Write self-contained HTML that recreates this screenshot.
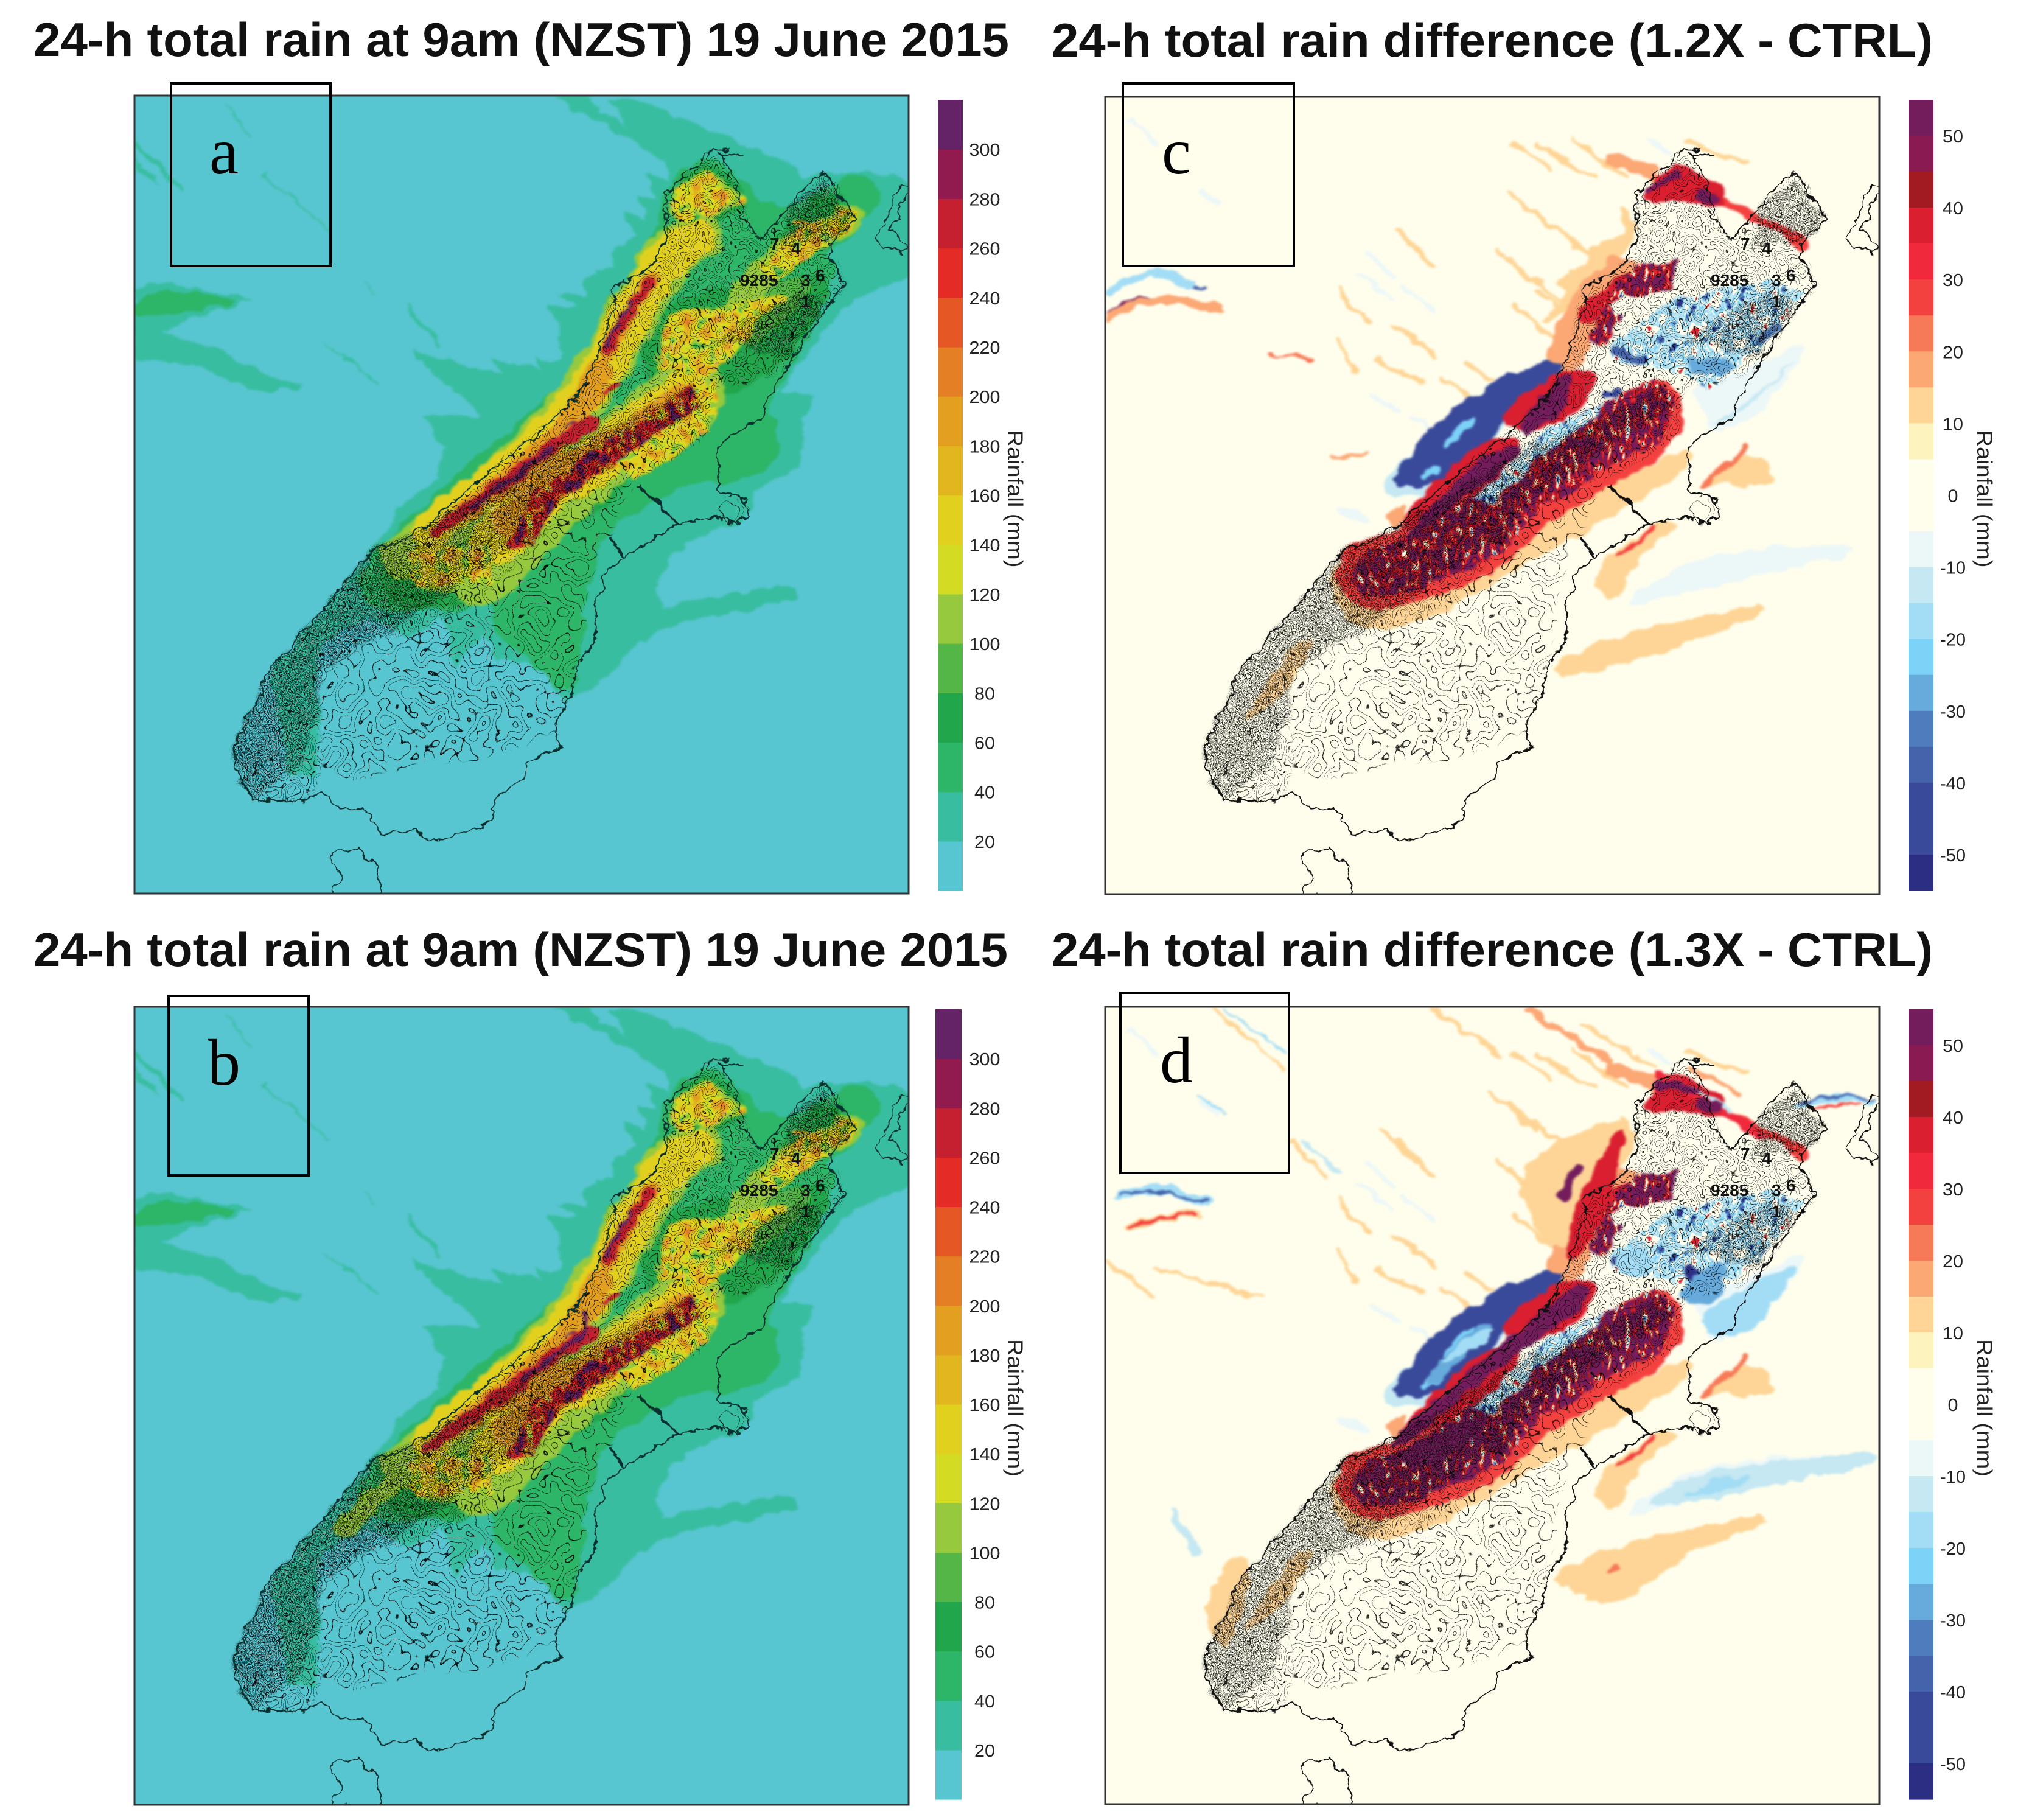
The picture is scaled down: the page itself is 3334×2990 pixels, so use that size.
<!DOCTYPE html>
<html lang="en"><head><meta charset="utf-8"><title>24-h total rain, South Island, 19 June 2015</title>
<style>
html,body{margin:0;padding:0;background:#fff}
svg{display:block}
text{font-family:"Liberation Sans",sans-serif}
</style></head>
<body>
<svg id="fig" xmlns="http://www.w3.org/2000/svg" width="3334" height="2990" viewBox="0 0 3334 2990">
<defs>
<filter id="soft" filterUnits="userSpaceOnUse" x="-900" y="-500" width="3000" height="3200" color-interpolation-filters="sRGB">
<feTurbulence type="fractalNoise" baseFrequency="0.018" numOctaves="3" seed="5" result="n"/>
<feDisplacementMap in="SourceGraphic" in2="n" scale="40" xChannelSelector="R" yChannelSelector="G"/>
<feGaussianBlur stdDeviation="3.5"/>
</filter>
<filter id="wobble" filterUnits="userSpaceOnUse" x="-900" y="-500" width="3000" height="3200" color-interpolation-filters="sRGB">
<feTurbulence type="fractalNoise" baseFrequency="0.03" numOctaves="3" seed="5" result="n"/>
<feDisplacementMap in="SourceGraphic" in2="n" scale="34" xChannelSelector="R" yChannelSelector="G"/>
</filter>
<filter id="contourDense" filterUnits="userSpaceOnUse" x="-900" y="-500" width="3000" height="3200" color-interpolation-filters="sRGB">
<feTurbulence type="fractalNoise" baseFrequency="0.02 0.016" numOctaves="2" seed="7"/>
<feColorMatrix type="matrix" values="0 0 0 0 0 0 0 0 0 0 0 0 0 0 0 1 0 0 0 0"/>
<feComponentTransfer><feFuncA id="denseTable" type="discrete" tableValues="0 1"/></feComponentTransfer>
<feGaussianBlur stdDeviation="0.4"/>
</filter>
<filter id="contourHatch" filterUnits="userSpaceOnUse" x="-900" y="-500" width="3000" height="3200" color-interpolation-filters="sRGB">
<feTurbulence type="fractalNoise" baseFrequency="0.055 0.035" numOctaves="2" seed="13"/>
<feColorMatrix type="matrix" values="0 0 0 0 0 0 0 0 0 0 0 0 0 0 0 1 0 0 0 0"/>
<feComponentTransfer><feFuncA id="hatchTable" type="discrete" tableValues="0 1"/></feComponentTransfer>
<feGaussianBlur stdDeviation="0.4"/>
</filter>
<filter id="contourSparse" filterUnits="userSpaceOnUse" x="-900" y="-500" width="3000" height="3200" color-interpolation-filters="sRGB">
<feTurbulence type="fractalNoise" baseFrequency="0.014 0.012" numOctaves="2" seed="11"/>
<feColorMatrix type="matrix" values="0 0 0 0 0 0 0 0 0 0 0 0 0 0 0 1 0 0 0 0"/>
<feComponentTransfer><feFuncA id="sparseTable" type="discrete" tableValues="0 1"/></feComponentTransfer>
<feGaussianBlur stdDeviation="0.4"/>
</filter>
<filter id="mottleRed" filterUnits="userSpaceOnUse" x="-900" y="-500" width="3000" height="3200" color-interpolation-filters="sRGB">
<feTurbulence type="fractalNoise" baseFrequency="0.06 0.025" numOctaves="3" seed="4"/>
<feColorMatrix type="matrix" values="1 0 0 0 0 1 0 0 0 0 1 0 0 0 0 0 0 0 0 1"/>
<feComponentTransfer id="redTable"><feFuncR type="discrete"/><feFuncG type="discrete"/><feFuncB type="discrete"/></feComponentTransfer>
<feGaussianBlur stdDeviation="1.2"/>
</filter>
<filter id="mottleRedD" filterUnits="userSpaceOnUse" x="-900" y="-500" width="3000" height="3200" color-interpolation-filters="sRGB">
<feTurbulence type="fractalNoise" baseFrequency="0.06 0.025" numOctaves="3" seed="4"/>
<feColorMatrix type="matrix" values="1 0 0 0 0 1 0 0 0 0 1 0 0 0 0 0 0 0 0 1"/>
<feComponentTransfer id="redTableD"><feFuncR type="discrete"/><feFuncG type="discrete"/><feFuncB type="discrete"/></feComponentTransfer>
<feGaussianBlur stdDeviation="1.2"/>
</filter>
<filter id="mottleBlue" filterUnits="userSpaceOnUse" x="-900" y="-500" width="3000" height="3200" color-interpolation-filters="sRGB">
<feTurbulence type="fractalNoise" baseFrequency="0.03 0.022" numOctaves="3" seed="9"/>
<feColorMatrix type="matrix" values="1 0 0 0 0 1 0 0 0 0 1 0 0 0 0 0 0 0 0 1"/>
<feComponentTransfer id="blueTable"><feFuncR type="discrete"/><feFuncG type="discrete"/><feFuncB type="discrete"/></feComponentTransfer>
<feGaussianBlur stdDeviation="1.2"/>
</filter>
<filter id="mottleRain" filterUnits="userSpaceOnUse" x="-900" y="-500" width="3000" height="3200" color-interpolation-filters="sRGB">
<feTurbulence type="fractalNoise" baseFrequency="0.035 0.022" numOctaves="3" seed="3"/>
<feColorMatrix type="matrix" values="1 0 0 0 0 1 0 0 0 0 1 0 0 0 0 0 0 0 0 1"/>
<feComponentTransfer id="rainTable"><feFuncR type="discrete"/><feFuncG type="discrete"/><feFuncB type="discrete"/></feComponentTransfer>
<feGaussianBlur stdDeviation="1.2"/>
</filter>
<filter id="mottleWarm" filterUnits="userSpaceOnUse" x="-900" y="-500" width="3000" height="3200" color-interpolation-filters="sRGB">
<feTurbulence type="fractalNoise" baseFrequency="0.03 0.025" numOctaves="3" seed="8"/>
<feColorMatrix type="matrix" values="1 0 0 0 0 1 0 0 0 0 1 0 0 0 0 0 0 0 0 1"/>
<feComponentTransfer id="warmTable"><feFuncR type="discrete"/><feFuncG type="discrete"/><feFuncB type="discrete"/></feComponentTransfer>
<feGaussianBlur stdDeviation="1.2"/>
</filter>
</defs>
<rect width="3334" height="2990" fill="#fff"/>

<g id="panels"></g>
<g id="bars"></g>

<g font-weight="700" font-size="78" fill="#111">
<text x="55" y="92" textLength="1603" lengthAdjust="spacingAndGlyphs">24-h total rain at 9am (NZST) 19 June 2015</text>
<text x="1728" y="93" textLength="1448" lengthAdjust="spacingAndGlyphs">24-h total rain difference (1.2X - CTRL)</text>
<text x="55" y="1587" textLength="1601" lengthAdjust="spacingAndGlyphs">24-h total rain at 9am (NZST) 19 June 2015</text>
<text x="1728" y="1587" textLength="1448" lengthAdjust="spacingAndGlyphs">24-h total rain difference (1.3X - CTRL)</text>
</g>

<g fill="none" stroke="#000" stroke-width="4">
<rect x="281" y="137" width="262" height="300"/>
<rect x="277" y="1636" width="230" height="295"/>
<rect x="1845" y="137" width="281" height="300"/>
<rect x="1841" y="1631" width="277" height="296"/>
</g>
<g font-size="108" fill="#000" text-anchor="middle">
<text x="368" y="285" style="font-family:'Liberation Serif',serif">a</text>
<text x="368" y="1782" style="font-family:'Liberation Serif',serif">b</text>
<text x="1933" y="285" style="font-family:'Liberation Serif',serif">c</text>
<text x="1933" y="1778" style="font-family:'Liberation Serif',serif">d</text>
</g>
</svg>

<script>
// ---- colour-bar data ----
const rainLevels = [0,20,40,60,80,100,120,140,160,180,200,220,240,260,280,300,320];
const rainColors = ["#58c6d0","#38bda0","#2db568","#22a64c","#55b648","#96c93d","#d3dc23","#e2d01f","#e2b61f","#e3a020","#e47f25","#e55825","#e52b26","#c4202f","#911b4e","#642367"];
const rainTicks = [20,40,60,80,100,120,140,160,180,200,220,240,260,280,300];
const diffLevels = [55,50,45,40,35,30,25,20,15,10,5,-5,-10,-15,-20,-25,-30,-35,-40,-50,-55];
const diffColors = ["#741d5c","#8a1a52","#a31b22","#da1f30","#f02a3c","#f3413f","#f67a58","#fba875","#fed596","#fdf3bf","#fffeec","#ecf7f8","#c5e8f2","#a3ddf5","#7cd2f7","#67abdc","#4e7cbd","#4463ab","#3a4a9b","#2b2e82"];
const diffTicks = [50,40,30,20,10,0,-10,-20,-30,-40,-50];

// ---- map geometry (traced outlines, each entry: value, stroke width or 0, outline) ----
const coastLine = "1040,32 990,30 860,170 860,320 820,410 712,475 710,530 660,700 600,830 490,950 400,1020 180,1240 90,1300 21,1313 -58,1430 -191,1606 -271,1701 -306,1796 -377,1957 -359,2060 -315,2126 -173,2129 -120,2096 -76,2155 -5,2147 48,2235 146,2224 190,2257 323,2213 367,2177 371,2125 456,2052 456,2008 562,1957 535,1906 589,1781 606,1694 659,1606 659,1489 686,1386 739,1342 890,1240 1000,1215 1060,1240 1100,1190 1070,1150 1010,1130 1005,1010 1030,965 1130,900 1190,750 1320,540 1370,470 1320,350 1400,250 1310,100 1260,150 1130,320 1080,250 1060,130 1010,40 1080,50";
const stewartLine = "-76,2279 -103,2308 -67,2367 -103,2440 39,2433 39,2338 -23,2287 -76,2279";
const northIslandLine = "1460,310 1530,150 1550,160 1500,290 1555,350 1530,365 1470,340 1460,310";
const faultLines = ["770,1110 830,1160 890,1240","700,1280 735,1340"];
const denseZone = "860,170 860,320 820,410 712,475 660,700 600,830 400,1020 180,1240 90,1300 21,1313 -58,1430 -191,1606 -271,1701 -306,1796 -377,1957 -359,2060 -315,2126 -173,2129 -120,2000 -147,1752 0,1620 200,1560 350,1460 500,1280 640,1120 770,1090 960,980 1000,800 1190,750 1320,540 1370,470 1320,350 1400,250 1310,100 1130,320 1080,250 1060,130 990,30";
const sparseZone = "-147,1752 0,1620 200,1560 350,1460 500,1280 640,1120 770,1110 650,1350 606,1694 535,1906 456,1950 330,2000 150,2000 50,2040 -60,2060 -120,2000";
const banksZone = "1000,1180 1040,1140 1095,1190 1060,1240 1010,1225";
const hatchZones = ["-377,1957 -271,1701 -58,1430 21,1313 120,1270 360,1120 520,1000 640,1010 420,1300 250,1450 100,1560 -120,1700 -170,2000 -315,2126 -359,2060","1200,220 1310,130 1400,250 1330,330 1200,340","1000,640 1250,480 1320,530 1190,700","520,1000 780,880 930,790 960,850 800,970 680,1070 560,1150 470,1310 380,1250"];

const rainFieldA = [
 [30,0,"768,-138 960,-45 1148,45 1220,80 1250,120 1400,100 1500,110 1560,150 1560,430 1500,470 1400,510 1340,570 1290,640 1215,760 1200,810 1280,825 1250,900 1260,920 1240,1050 1200,1080 1110,1120 1100,1200 1060,1240 960,1275 880,1330 830,1440 850,1505 1000,1475 1140,1440 1230,1440 1230,1480 1100,1510 950,1540 800,1600 746,1664 677,1745 597,1789 562,1811 509,1679 376,1672 340,1591 252,1694 225,1533 128,1606 13,1533 -111,1606 -147,1752 -129,1899 -147,2045 -218,2045 -271,1708 -200,1620 -58,1430 21,1313 85,1230 100,1180 210,1100 220,1000 235,990 160,890 330,885 320,860 240,800 130,680 260,720 385,750 355,705 500,740 480,700 550,710 560,620 520,530 600,530 550,500 630,500 630,440 700,420 700,370 770,300 740,235 800,250 780,180 830,200 800,110 860,130 850,70 760,0 660,-70 544,-137 620,-137 740,-50 700,-137"],
 [30,0,"-658,474 -562,457 -322,516 -488,570 -580,624 -414,674 -266,766 -174,787 -185,807 -340,799 -488,728 -658,703"],
 [50,0,"-658,516 -562,474 -340,516 -488,549 -617,570 -658,570"],
 [30,14,"-654,7 -532,166"],[30,5,"-285,112 -100,299"],[30,5,"-119,653 29,778"],[30,10,"120,535 210,660"],[30,4,"0,460 25,490"],[30,4,"-400,-120 -330,-10"],
 [30,0,"-700,-30 -640,100 -580,150 -650,60"],
 [50,0,"960,60 1010,60 1090,150 1130,195 1230,220 1330,140 1400,100 1490,170 1400,300 1320,350 1340,400 1330,500 1210,740 1190,800 1140,850 1185,940 1180,1040 1060,1115 950,1090 850,1150 710,1230 660,1310 624,1533 606,1767 562,1781 482,1679 376,1606 358,1459 243,1533 199,1503 21,1533 -23,1423 12,1328 70,1290 100,1230 170,1180 280,1050 400,950 470,880 560,790 640,690 680,580 700,500 790,400 810,340 850,230 860,130"],
 [70,0,"20,1330 120,1270 360,1120 500,1000 700,1000 780,1100 560,1280 420,1420 360,1460 220,1520 60,1500"],
 [70,0,"870,130 990,70 1070,150 1100,200 1010,270 900,290"],
 [70,0,"1130,360 1260,200 1360,160 1400,220 1330,330 1200,440 1140,420"],
 [70,0,"800,720 780,560 1000,480 1320,420 1330,500 1190,740 1000,830 980,920 800,1000"],
 [90,0,"1030,520 1200,430 1300,470 1180,600 1060,700"],
 [110,150,"120,1340 300,1180 500,990 620,830 700,700 780,520 860,380 950,310"],
 [110,200,"330,1400 480,1230 600,1090 780,930 930,810"],
 [110,0,"110,1310 350,1320 360,1430 250,1460 140,1450"],
 [110,90,"1000,640 1130,420 1230,340 1380,250"],
 [110,0,"870,150 990,90 1040,160 1085,170 1090,200 1050,210 990,260 890,270 870,230"],
 [110,0,"810,730 850,560 990,540 1030,720 940,800"],
 [70,0,"810,690 830,610 950,560 930,640 880,690"],
 [150,0,"160,1290 340,1330 350,1400 210,1390 120,1360"],
 [150,120,"190,1250 330,1130 500,990 610,840 690,720 770,530 850,390 940,320"],
 [150,150,"380,1290 500,1130 620,1060 780,930 920,820"],
 [150,50,"1160,410 1240,330 1380,250"],
 [150,30,"960,690 1030,610 1100,580 1190,510"],
 [190,78,"290,1190 450,1070 560,950 640,820 665,745"],
 [190,50,"690,690 760,540 820,455"],
 [190,90,"410,1230 520,1090 650,1020 800,920 910,830"],
 [190,14,"1230,262 1290,270"],[190,16,"890,160 950,145"],[190,14,"880,210 920,215"],
 [270,36,"200,1260 330,1160 530,990 650,905"],
 [270,30,"690,680 760,540 820,460"],
 [270,14,"690,810 730,790"],
 [310,12,"300,1185 380,1120 540,985"],
 [310,11,"690,670 715,600 760,525"],
 [310,8,"570,920 600,915"]
];
const rainExtraB = [
 [310,12,"620,850 660,900 520,1000"],
 [270,34,"180,1280 300,1190 440,1075"],
 [110,60,"-60,1540 40,1420 140,1350"]
];
const rainHotZones = ["400,1300 500,1120 640,1010 780,900 930,790 950,850 800,970 680,1070 560,1150 470,1310"];
const rainWarmZones = ["880,160 985,100 1030,170 1085,175 1080,200 1040,200 985,250 900,260 880,225","1130,400 1240,280 1390,220 1400,270 1280,370 1170,450","850,620 870,560 1060,520 1180,500 1050,700 960,760 840,740","120,1330 350,1310 360,1430 140,1440","660,1000 1000,770 1010,880 920,1000 770,1090"];

const streaksWarm = ["500,10 610,95","570,20 730,120","670,0 820,120","480,170 740,390","170,290 270,415","450,350 640,530","570,490 660,570","500,530 620,650","0,480 80,580","160,600 280,700","110,710 230,775","360,720 440,765","0,640 50,750","300,770 380,840","990,0 1160,75"];
const streaksCool = ["60,430 150,510","80,365 155,435","190,480 270,550","100,830 180,875","210,900 270,945","890,0 950,35","-395,160 -350,205","-600,-60 -520,10"];
const diffFieldC = [
 [12,0,"560,600 650,560 700,470 840,350 850,240 780,200 840,300 720,330 700,420 620,440 650,500"],
 [12,0,"1030,1130 1150,985 1270,1090 1200,1120 1100,1100"],
 [12,0,"700,1400 880,1240 1000,1220 850,1340 780,1500"],
 [12,0,"600,1740 650,1640 1000,1540 1220,1490 1220,1530 1000,1610 800,1700"],
 [12,0,"-140,1650 -60,1560 -150,1800 -300,1900"],
 [12,0,"-20,1340 160,1270 400,1300 640,1180 800,1100 1000,980 1020,1040 800,1200 560,1350 340,1500 100,1600 -20,1500"],
 [-7,0,"820,1480 1040,1330 1470,1290 1470,1340 1200,1400 830,1510"],
 [-7,0,"1000,800 1180,730 1330,640 1330,700 1200,880 1080,960 1040,870"],
 [-12,0,"1050,930 1200,820 1320,680 1240,790 1120,900"],
 [-7,0,"0,1160 100,1210 90,1240 0,1220"],
 [17,40,"780,60 900,110"],
 [27,30,"1090,190 1200,250 1330,340"],
 [22,18,"1040,1120 1160,990"],[27,14,"800,1330 900,1250"],
 [37,76,"660,690 700,570 790,460"],
 [17,110,"650,690 700,540 800,430"],
 [37,60,"720,560 770,490 860,450"],
 [37,0,"850,190 950,70 1040,110 1110,170 1090,225 1000,190 900,200"],
 [-12,0,"110,1150 150,1060 270,940 440,810 500,750 660,700 570,840 470,930 340,1070 240,1150"],
 [-45,0,"130,1120 250,940 310,870 410,810 480,745 670,700 570,820 490,890 450,950 340,1060 250,1120"],
 [-22,0,"290,990 350,900 400,890 350,960"],[-22,0,"220,1090 260,1050 300,1050 250,1090"],
 [-7,0,"770,680 890,640 860,720 790,720"],
 [37,0,"470,880 530,820 640,730 770,760 650,910 560,940 480,920"],
 [37,0,"420,960 500,950 530,1000 350,1180 190,1300 160,1240 270,1100"],
 [17,0,"120,1220 180,1160 200,1230 150,1260"],
 [27,0,"0,1310 160,1260 360,1180 520,1060 700,900 900,750 1000,830 950,1010 780,1110 600,1230 480,1370 370,1430 230,1490 70,1520 -10,1430"]
];
const diffTopC = [
 [52,0,"520,890 590,820 650,745 670,760 640,900 560,920 530,965 520,930"],
 [52,0,"180,1280 240,1210 300,1130 420,1010 510,985 530,1000 380,1130 250,1250 200,1285"],
 [52,22,"880,160 960,115"],[52,30,"1040,180 1070,185"],
 [-45,16,"760,825 800,815"],[-37,26,"790,680 850,710"],[-27,50,"1020,730 1100,730"],
 [-32,30,"1200,640 1250,610"]
];
const arcsC = [[52,8,"-657,560 -590,505 -500,510 -332,540"],[-37,8,"-657,480 -590,425 -480,430 -380,487"],[-17,26,"-657,490 -560,410 -420,465"],[17,26,"-657,575 -560,495 -340,545"],[17,12,"-20,1020 80,1010"],[22,8,"-190,690 -80,705"]];
const diffExtraD = [
 [12,0,"495,363 801,207 835,276 716,485 665,659 560,600"],
 [17,0,"-389,1754 -287,1667 -338,1927"],
 [12,0,"-389,1754 -287,1600 -240,1700 -338,1990"],
 [-12,0,"852,1476 1022,1354 1532,1285 1532,1337 1226,1406 937,1476"],
 [-17,0,"960,1440 1060,1380 1200,1370 1100,1420"],
 [12,0,"614,1719 801,1580 1226,1510 1226,1528 1005,1597 937,1684 767,1806"],
 [22,0,"760,1700 790,1640 810,1680"],
 [-17,0,"1000,860 1180,760 1330,660 1260,800 1120,960"],
 [37,0,"682,485 801,224 835,276 716,659 631,694"],
 [32,30,"910,85 1073,172 1209,276"],
 [17,22,"546,-132 767,33"],[12,16,"274,-123 461,16"],[12,16,"427,137 563,259"],[12,14,"121,259 223,363"],[12,14,"-134,294 -32,415"],[12,10,"-355,-132 -151,68"],
 [12,14,"-661,676 -525,798"],[12,12,"-525,702 -219,798"],[12,12,"700,-80 900,50"],[17,16,"1000,60 1140,140"],
 [-17,8,"-330,-132 -151,7"],[-17,7,"-406,137 -330,207"],[-12,10,"-100,300 0,390"],[-12,10,"1000,120 1120,190"],
 [-17,26,"-627,468 -525,431 -372,494"],[-37,7,"-627,468 -525,441 -372,494"],
 [12,22,"-593,572 -508,537 -406,528"],[27,9,"-593,572 -508,537 -406,528"],
 [-17,20,"1311,182 1430,146 1532,173"],[-37,7,"1311,172 1430,146 1532,163"],[27,5,"1360,190 1430,165 1490,180"],
 [-12,20,"-480,1480 -400,1620"]
];
const diffTopD = [
 [52,0,"690,730 478,937 140,1250 160,1300 461,1016 730,810"],
 [52,0,"160,1300 360,1200 440,1180 330,1310 200,1350"],
 [-52,40,"1000,720 1060,730"],[-45,26,"790,680 830,700"],[-17,0,"810,640 900,640 880,740 790,720"],
 [-27,0,"960,760 1120,660 1090,800 1000,830"],
 [52,22,"640,470 680,380"],[52,26,"920,110 1010,130"],[52,30,"1040,175 1080,180"],
 [-27,0,"230,1090 300,980 400,880 450,880 380,960 300,1060"],
 [-17,0,"290,1010 350,930 450,890 420,940 340,990"]
];
const mottleRedZones = ["540,1000 700,880 900,770 960,830 920,980 840,1010 700,1100 560,1200 460,1330 370,1380 230,1450 80,1480 20,1400 80,1320 160,1300 340,1180","850,400 980,390 940,480 860,500 760,520 820,440","720,640 760,520 810,570 750,660"];
const mottleBlueZones = ["770,660 960,510 1220,450 1330,480 1230,640 1050,800 960,740 800,720","530,1000 620,920 780,830 720,900 560,1030 440,1180 380,1150"];
const redBinsC = ["#741d5c","#741d5c","#741d5c","#741d5c","#741d5c","#741d5c","#741d5c","#741d5c","#741d5c","#8a1a52","#a31b22","#da1f30","#f02a3c","#fba875","#fffeec","#a3ddf5","#4e7cbd","#2b2e82","#2b2e82","#2b2e82"];
const redBinsD = ["#741d5c","#741d5c","#741d5c","#741d5c","#741d5c","#741d5c","#741d5c","#741d5c","#741d5c","#741d5c","#8a1a52","#a31b22","#da1f30","#fba875","#fffeec","#a3ddf5","#4e7cbd","#2b2e82","#2b2e82","#2b2e82"];
const blueBins = ["#da1f30","#da1f30","#da1f30","#da1f30","#da1f30","#fffeec","#fffeec","#fffeec","#a3ddf5","#c5e8f2","#7cd2f7","#fffeec","#a3ddf5","#67abdc","#4463ab","#2b2e82","#2b2e82","#2b2e82","#2b2e82","#2b2e82"];
const hotBins = ["#642367","#642367","#642367","#642367","#642367","#642367","#642367","#911b4e","#c4202f","#c4202f","#e52b26","#e55825","#e47f25","#e3a020","#e2d01f","#d3dc23","#96c93d","#96c93d","#96c93d","#96c93d"];
const warmBins = ["#e47f25","#e47f25","#e47f25","#e47f25","#e3a020","#e3a020","#e3a020","#e2b61f","#e2b61f","#e2d01f","#e2d01f","#d3dc23","#d3dc23","#96c93d","#96c93d","#55b648","#55b648","#22a64c","#22a64c","#22a64c"];
const mapLabels = [["9285",1216,470],["3",1316,470],["6",1340,462],["1",1316,505],["7",1265,410],["4",1300,418]];

// ---- helpers ----
const NS = "http://www.w3.org/2000/svg";
function mk(tag, parent, attrs){
  const n = document.createElementNS(NS, tag);
  for (const k in attrs) n.setAttribute(k, attrs[k]);
  parent.appendChild(n);
  return n;
}
function rainColor(v){
  for (let i = 0; i < rainColors.length; i++) if (v < rainLevels[i+1]) return rainColors[i];
  return rainColors[rainColors.length-1];
}
function diffColor(v){
  for (let i = 0; i < diffColors.length; i++) if (v > diffLevels[i+1]) return diffColors[i];
  return diffColors[diffColors.length-1];
}
function hexRGB(h){ return [1,3,5].map(i => (parseInt(h.substr(i,2),16)/255).toFixed(3)); }
function setBins(id, bins){
  const fns = document.getElementById(id).children;
  for (let c = 0; c < 3; c++) fns[c].setAttribute("tableValues", bins.map(b => hexRGB(b)[c]).join(" "));
}
setBins("redTable", redBinsC);
setBins("redTableD", redBinsD);
setBins("blueTable", blueBins);
setBins("rainTable", hotBins);
setBins("warmTable", warmBins);
function isoTable(n, every){
  const t = [];
  for (let i = 0; i < n; i++) t.push(i % every === 0 ? 1 : 0);
  return t.join(" ");
}
document.getElementById("denseTable").setAttribute("tableValues", isoTable(90, 8));
document.getElementById("hatchTable").setAttribute("tableValues", isoTable(60, 4));
document.getElementById("sparseTable").setAttribute("tableValues", isoTable(90, 12));

function parsePts(s){ return s.trim().split(/\s+/).map(p => p.split(",").map(Number)); }
function smoothPath(s, closed){
  const p = parsePts(s);
  const mid = (a,b) => [(a[0]+b[0])/2,(a[1]+b[1])/2];
  if (p.length < 3) return "M" + p.map(a => a.join(",")).join(" L");
  let d;
  if (closed){
    const m0 = mid(p[p.length-1], p[0]);
    d = "M" + m0.join(",");
    p.forEach(function(a,i){ const m = mid(a, p[(i+1)%p.length]); d += " Q" + a.join(",") + " " + m.join(","); });
    return d + " Z";
  }
  d = "M" + p[0].join(",");
  for (let i = 1; i < p.length-1; i++){ const m = mid(p[i], p[i+1]); d += " Q" + p[i].join(",") + " " + m.join(","); }
  return d + " L" + p[p.length-1].join(",");
}

// ---- fields ----
function drawField(parent, list, colorOf, name, sharpValue){
  list.forEach(function(f){
    const col = colorOf(f[0]);
    let el;
    if (f[1] > 0) el = mk("path", parent, {d:smoothPath(f[2], false), fill:"none", stroke:col, "stroke-width":f[1], "stroke-linecap":"round", "stroke-linejoin":"round"});
    else if (f[0] === sharpValue) el = mk("polygon", parent, {points:f[2], fill:col});
    else el = mk("path", parent, {d:smoothPath(f[2], true), fill:col});
    
    
  });
}
function drawStreaks(parent, list, v, w){
  list.forEach(function(p){
    const el = mk("polyline", parent, {points:p, fill:"none", stroke:diffColor(v), "stroke-width":w, "stroke-linecap":"round"});
    
    
  });
}
let uid = 0;
function zoneMask(points){
  const id = "zone" + (uid++);
  const m = mk("mask", document.querySelector("defs"), {id:id, maskUnits:"userSpaceOnUse", x:-900, y:-500, width:3000, height:3200});
  const g = mk("g", m, {filter:"url(#soft)"});
  points.forEach(function(p){ mk("polygon", g, {points:p, fill:"#fff"}); });
  return id;
}
const maskDense = zoneMask([denseZone]);
const maskSparse = zoneMask([sparseZone, banksZone]);
const maskHatch = zoneMask(hatchZones);
const maskHot = zoneMask(rainHotZones);
const maskWarm = zoneMask(rainWarmZones);
const maskRed = zoneMask(mottleRedZones);
const maskBlue = zoneMask(mottleBlueZones);
function mottle(parent, maskId, filterId){
  const z = mk("g", parent, {mask:"url(#"+maskId+")"});
  mk("rect", z, {x:-900,y:-500,width:3000,height:3200,filter:"url(#"+filterId+")"});
}
const TF = "scale(0.5757,0.5102)";
function drawTerrain(parent, stroke, ox, oy, alpha){
  const g = mk("g", parent, {transform:"translate("+ox+","+oy+") "+TF});
  
  
  const z1 = mk("g", g, {mask:"url(#"+maskDense+")", opacity:alpha});
  mk("rect", z1, {x:-900,y:-500,width:3000,height:3200,filter:"url(#contourDense)"});
  const z2 = mk("g", g, {mask:"url(#"+maskSparse+")", opacity:alpha});
  mk("rect", z2, {x:-900,y:-500,width:3000,height:3200,filter:"url(#contourSparse)"});
  const z3 = mk("g", g, {mask:"url(#"+maskHatch+")", opacity:alpha});
  mk("rect", z3, {x:-900,y:-500,width:3000,height:3200,filter:"url(#contourHatch)"});
  const lines = mk("g", g, {filter:"url(#wobble)"});
  [[coastLine,2.4],[stewartLine,2],[northIslandLine,2]].forEach(function(c){
    const el = mk("polyline", lines, {points:c[0], fill:"none", stroke:stroke, "stroke-width":c[1], "vector-effect":"non-scaling-stroke", "stroke-linejoin":"round"});
    
    
  });
  faultLines.forEach(function(f){
    const el = mk("polyline", lines, {points:f, fill:"none", stroke:stroke, "stroke-width":4, "vector-effect":"non-scaling-stroke"});
    
    
  });
}
function drawMapLabels(parent, dx, dy){
  mapLabels.forEach(function(m){
    const t = mk("text", parent, {x:m[1]+dx, y:m[2]+dy, "font-size":28, "font-weight":700, fill:"#111"});
    t.textContent = m[0];
    
    
  });
}
function panelFrame(name, x, y, w, h, bg){
  const root = document.getElementById("panels");
  const id = "clip-" + name;
  const cp = mk("clipPath", document.querySelector("defs"), {id:id});
  mk("rect", cp, {x:x,y:y,width:w,height:h});
  const g = mk("g", root, {"clip-path":"url(#"+id+")"});
  
  
  const b = mk("rect", g, {x:x,y:y,width:w,height:h,fill:bg});
  
  
  return g;
}
function panelBorder(name, x, y, w, h){
  const b = mk("rect", document.getElementById("panels"), {x:x,y:y,width:w,height:h,fill:"none",stroke:"#333","stroke-width":3});
  
  
}
function rainPanel(name, x, y, dy, extra){
  const g = panelFrame(name, x, y, 1272, 1311, rainColors[0]);
  const base = "translate(600,"+(230+dy)+") "+TF;
  const f = mk("g", g, {transform:base, filter:"url(#soft)"});
  drawField(f, rainFieldA, rainColor, 'rain-region', 30);
  if (extra) drawField(f, extra, rainColor, 'rain-region', 30);
  const m = mk("g", g, {transform:base});
  
  
  mottle(m, maskWarm, "mottleWarm");
  mottle(m, maskHot, "mottleRain");
  drawTerrain(g, "#08302f", 600, 230+dy, 0.88);
  drawMapLabels(g, 0, dy);
  panelBorder(name, x, y, 1272, 1311);
}
function diffPanel(name, x, y, dy, strong){
  const g = panelFrame(name, x, y, 1272, 1310, "#fffeec");
  const base = "translate(2200,"+(230+dy)+") "+TF;
  const f = mk("g", g, {transform:base, filter:"url(#soft)"});
  drawStreaks(f, streaksWarm, 12, 14);
  drawStreaks(f, streaksCool, -7, 16);
  if (!strong) drawField(f, arcsC, diffColor, 'rain-difference-region');
  drawField(f, diffFieldC, diffColor, 'rain-difference-region');
  if (strong) drawField(f, diffExtraD, diffColor, 'rain-difference-region');
  const m = mk("g", g, {transform:base});
  
  
  mottle(m, maskRed, strong ? "mottleRedD" : "mottleRed");
  mottle(m, maskBlue, "mottleBlue");
  const t = mk("g", g, {transform:base, filter:"url(#soft)"});
  drawField(t, strong ? diffTopD : diffTopC, diffColor, 'rain-difference-region');
  drawTerrain(g, "#111", 2195, 230+dy, 0.82);
  drawMapLabels(g, 1595, dy);
  panelBorder(name, x, y, 1272, 1310);
}
rainPanel("panel-a", 221, 157, 0, null);
rainPanel("panel-b", 221, 1654, 1495, rainExtraB);
diffPanel("panel-c", 1816, 159, 0, false);
diffPanel("panel-d", 1816, 1654, 1495, true);

// ---- colour bars ----
function yScale(v, lo, hi, top, height){ return top + (hi - v) / (hi - lo) * height; }
function tickWidth(s){ return [...s].reduce((a,c) => a + (c === "-" ? 8 : 17), 0); }
function colorbar(name, x, w, top, height, levels, colors, ticks, labelX, titleX){
  const root = document.getElementById("bars");
  const g = mk("g", root, {});
  
  
  const lo = Math.min.apply(null, levels), hi = Math.max.apply(null, levels);
  colors.forEach(function(c, i){
    const a = levels[i], b = levels[i+1];
    const y0 = yScale(Math.max(a,b), lo, hi, top, height), y1 = yScale(Math.min(a,b), lo, hi, top, height);
    const r = mk("rect", g, {x:x, y:y0, width:w, height:y1-y0+0.6, fill:c});
    
    
  });
  ticks.forEach(function(t){
    const s = String(t);
    const tx = mk("text", g, {x:labelX, y:yScale(t, lo, hi, top, height)+11, "font-size":29, fill:"#222", "text-anchor":"middle", textLength:tickWidth(s), lengthAdjust:"spacingAndGlyphs"});
    tx.textContent = s;
    
    
  });
  const yc = top + height * 0.5 + 6;
  const tt = mk("text", g, {transform:"translate("+titleX+","+yc+") rotate(90)", "font-size":35, fill:"#222", "text-anchor":"middle", textLength:226, lengthAdjust:"spacingAndGlyphs"});
  tt.textContent = "Rainfall (mm)";
  
  
}
colorbar("colorbar-a", 1541, 41, 164, 1299, rainLevels, rainColors, rainTicks, 1618, 1656);
colorbar("colorbar-b", 1537, 43, 1658, 1298, rainLevels, rainColors, rainTicks, 1618, 1656);
colorbar("colorbar-c", 3136, 41, 164, 1299, diffLevels, diffColors, diffTicks, 3209, 3249);
colorbar("colorbar-d", 3136, 41, 1658, 1298, diffLevels, diffColors, diffTicks, 3209, 3249);
</script>
</body></html>
